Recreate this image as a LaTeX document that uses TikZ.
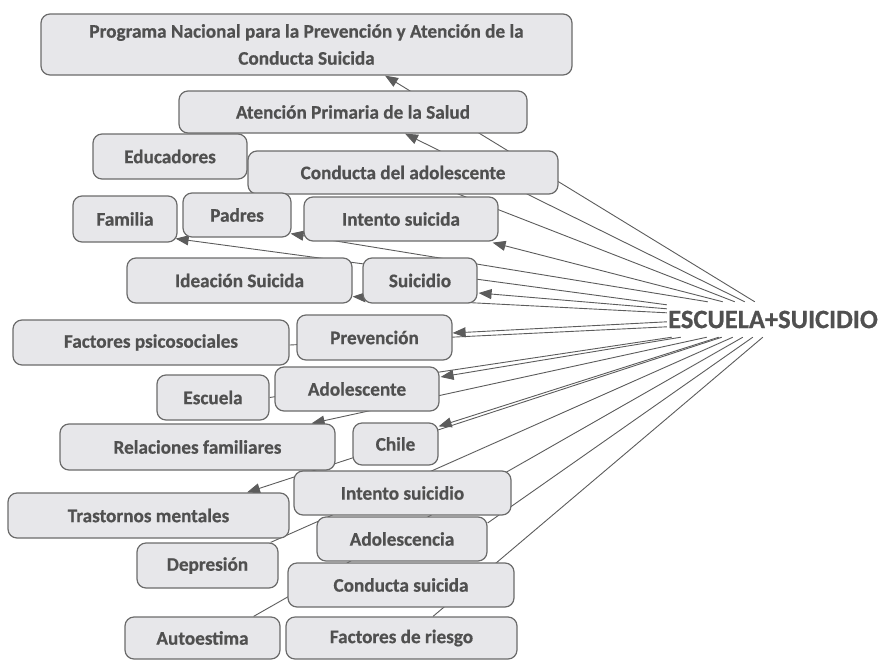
\documentclass[tikz,border=0pt]{standalone}
\usepackage{fontspec}
\setmainfont{Carlito}[BoldFeatures={FakeBold=0.6}]
\usetikzlibrary{arrows.meta,calc}
\pgfdeclarelayer{background}
\pgfsetlayers{background,main}
\definecolor{boxfill}{HTML}{E7E7EA}
\definecolor{boxline}{HTML}{6B6B6B}
\definecolor{txt}{HTML}{505050}
\definecolor{edgecol}{HTML}{5C5C5C}
\newcommand\mkbox[6]{\node[cbox,minimum width=#4pt,minimum height=#5pt] (#1) at (#2,#3) {#6};}
\begin{document}
\begin{tikzpicture}[x=1pt,y=-1pt,
  cbox/.style={draw=boxline, line width=1.2pt, fill=boxfill, rounded corners=9pt,
    text=txt, font=\bfseries\fontsize{19.2}{27}\selectfont, inner sep=0pt, align=center},
  link/.style={draw=edgecol, line width=0.9pt},
  arr/.style={link, -{Triangle[length=13pt,width=10pt]}}]
\useasboundingbox (0,0) rectangle (883,659);

\mkbox{prog}{306.5}{44.5}{531}{61}{Programa Nacional para la Prevención y Atención de la\\Conducta Suicida}
\mkbox{aten}{353}{112}{348}{42}{Atención Primaria de la Salud}
\mkbox{educ}{170}{156.5}{154}{45}{Educadores}
\mkbox{cadol}{403}{172.5}{310}{43}{Conducta del adolescente}
\mkbox{fam}{125}{219}{104}{46}{Familia}
\mkbox{padres}{237}{215}{108}{44}{Padres}
\mkbox{isuicida}{401}{219}{194}{44}{Intento suicida}
\mkbox{ideac}{239.5}{280.5}{225}{45}{Ideación Suicida}
\mkbox{suic}{420}{280.5}{114}{45}{Suicidio}
\mkbox{fpsico}{151}{342.5}{276}{45}{Factores psicosociales}
\mkbox{prev}{374.5}{337.5}{155}{45}{Prevención}
\mkbox{adolte}{357}{389}{164}{44}{Adolescente}
\mkbox{escuela}{213}{397.5}{112}{45}{Escuela}
\mkbox{relfam}{197.5}{447}{275}{46}{Relaciones familiares}
\mkbox{chile}{395.5}{444}{85}{42}{Chile}
\mkbox{trast}{148.5}{515.5}{281}{45}{Trastornos mentales}
\mkbox{isuicidio}{402.5}{493}{217}{44}{Intento suicidio}
\mkbox{depre}{207.5}{565.5}{141}{45}{Depresión}
\mkbox{adolcia}{402}{539}{170}{44}{Adolescencia}
\mkbox{csuic}{401}{585}{226}{44}{Conducta suicida}
\mkbox{autoest}{202.5}{638}{155}{42}{Autoestima}
\mkbox{friesgo}{401.5}{638}{231}{42}{Factores de riesgo}

\node[text=txt, font=\bfseries\fontsize{26.5}{30}\selectfont, minimum width=216pt,
  minimum height=35pt, inner sep=0pt] (esc) at (773,319.5) {ESCUELA+SUICIDIO};

\begin{pgfonlayer}{background}
% upper fan
\draw[arr]  ($(esc.north west)+(90,0)$) -- ($(prog.south)+(78.5,0)$);
\draw[arr]  ($(esc.north west)+(80,0)$) -- ($(aten.south)+(52,0)$);
\draw[link] ($(esc.north west)+(70,0)$) -- (cadol.center);
\draw[arr]  ($(esc.north west)+(58,0)$) -- ($(isuicida.south east)+(-6,1)$);
\draw[arr]  ($(esc.north west)+(43,0)$) -- ($(padres.south east)+(-1,-4)$);
\draw[arr]  ($(esc.north west)+(2,3)$) -- ($(fam.south east)+(-2,-4)$);
\draw[arr]  ($(esc.north west)+(2,7)$) -- ($(suic.east)+(1,12.5)$);
\draw[arr]  ($(esc.north west)+(2,11)$) -- ($(ideac.south east)+(0,-7)$);
\draw[arr]  ($(esc.north west)+(2,20)$) -- ($(prev.east)+(0,-4.5)$);
\draw[link] ($(esc.north west)+(2,25)$) -- ($(fpsico.east)+(0,2.5)$);
% lower fan
\draw[link] ($(esc.south west)+(7,0)$) -- (escuela.east);
\draw[arr]  ($(esc.south west)+(16,0)$) -- ($(adolte.east)+(1,-12)$);
\draw[arr]  ($(esc.south west)+(42,0)$) -- ($(relfam.north east)+(-24,0)$);
\draw[arr]  ($(esc.south west)+(54,0)$) -- ($(chile.north east)+(0,4)$);
\draw[arr]  ($(esc.south west)+(57,0)$) -- ($(trast.north)+(98.5,0)$);
\draw[link] ($(esc.south west)+(68,0)$) -- ($(depre.north east)+(-8,0)$);
\draw[link] ($(esc.south west)+(78,0)$) -- ($(autoest.north east)+(-27,0)$);
\draw[link] ($(esc.south west)+(88,0)$) -- ($(adolcia.east)+(0,-16)$);
\draw[link] ($(esc.south west)+(98,0)$) -- ($(friesgo.north)+(31.5,0)$);
\end{pgfonlayer}
\end{tikzpicture}
\end{document}
